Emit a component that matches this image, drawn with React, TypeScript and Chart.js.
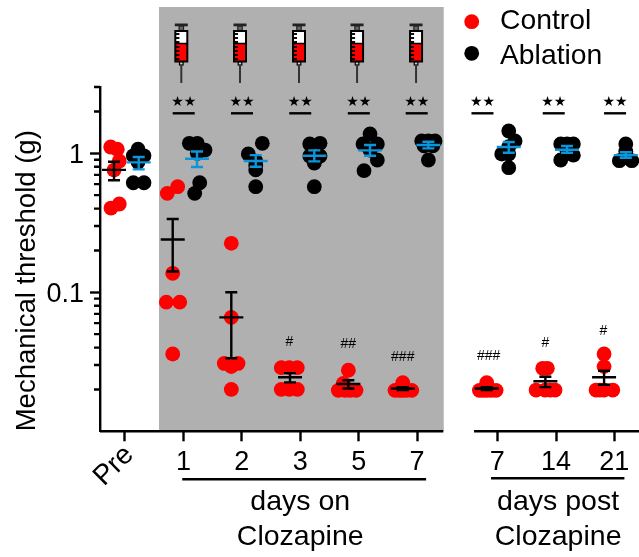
import React, { useEffect, useRef } from "react";
import { Chart, registerables } from "chart.js";

Chart.register(...registerables);

const FONT = "'Liberation Sans', Arial, sans-serif";

const xTickPos = [0, 1, 2, 3, 4, 5, 6.375, 7.38, 8.375];
const xTickLabels = ["Pre", "1", "2", "3", "5", "7", "7", "14", "21"];
const yMinorTicks = [0.02, 0.03, 0.04, 0.05, 0.06, 0.07, 0.08, 0.09, 0.2, 0.3, 0.4, 0.5, 0.6, 0.7, 0.8, 0.9, 2, 3];
const yMajorTicks = [0.1, 1];

const controlX = [
  [-0.245, -0.132, -0.098, -0.188, -0.098, -0.24],
  [0.902, 0.724, 0.817, 0.707, 0.937, 0.817],
  [1.82, 1.82, 1.7, 1.935, 1.82, 1.82],
  [2.676, 2.813, 2.95, 2.676, 2.813, 2.95],
  [3.824, 3.738, 3.652, 3.767, 3.853, 3.955],
  [4.755, 4.623, 4.755, 4.909, 4.7, 4.82],
  [6.193, 6.067, 6.193, 6.353, 6.13, 6.27],
  [7.152, 7.231, 7.038, 7.192, 7.363, 7.28],
  [8.202, 8.202, 8.065, 8.202, 8.351, 8.13],
];
const controlY = [
  [1.11, 1.07, 0.88, 0.758, 0.432, 0.404],
  [0.575, 0.515, 0.137, 0.085, 0.085, 0.036],
  [0.225, 0.066, 0.0308, 0.0308, 0.0292, 0.02],
  [0.0287, 0.0287, 0.0287, 0.02, 0.02, 0.02],
  [0.0275, 0.0221, 0.0197, 0.0197, 0.0197, 0.0197],
  [0.0224, 0.0197, 0.0197, 0.0197, 0.0197, 0.0197],
  [0.0224, 0.0197, 0.0197, 0.0197, 0.0197, 0.0197],
  [0.0284, 0.0284, 0.0198, 0.0198, 0.0198, 0.0198],
  [0.036, 0.0292, 0.0198, 0.0198, 0.0198, 0.0198],
];
const ablationX = [
  [0.223, 0.142, 0.325, 0.223, 0.142, 0.325],
  [1.101, 1.238, 1.37, 1.238, 1.279, 1.193],
  [2.351, 2.111, 2.238, 2.238, 2.238, 2.238],
  [3.163, 3.339, 3.163, 3.339, 3.241, 3.241],
  [4.195, 4.32, 4.075, 4.195, 4.32, 4.092],
  [5.08, 5.308, 5.194, 5.12, 5.27, 5.194],
  [6.57, 6.678, 6.57, 6.45, 6.57, 6.57],
  [7.46, 7.676, 7.568, 7.46, 7.676, 7.568],
  [8.574, 8.464, 8.676, 8.574, 8.574, 8.574],
];
const ablationY = [
  [1.07, 0.96, 0.96, 0.866, 0.614, 0.614],
  [1.18, 1.18, 1.056, 1.0, 0.614, 0.515],
  [1.18, 0.99, 0.88, 0.76, 0.82, 0.575],
  [1.167, 1.18, 0.956, 0.956, 0.85, 0.575],
  [1.38, 1.167, 1.167, 1.056, 0.895, 0.75],
  [1.226, 1.226, 1.226, 1.134, 1.134, 0.895],
  [1.447, 1.226, 1.115, 0.988, 0.99, 0.788],
  [1.167, 1.167, 1.167, 0.895, 0.97, 1.056],
  [1.167, 0.885, 0.885, 1.03, 0.945, 0.97],
];

const controlCenterX = [-0.188, 0.817, 1.82, 2.825, 3.824, 4.755, 6.193, 7.197, 8.202];
const controlMean = [0.76, 0.24, 0.066, 0.0245, 0.0219, 0.0203, 0.0203, 0.0229, 0.0245];
const controlTop = [0.87, 0.337, 0.1, 0.0262, 0.0233, 0.0208, 0.0208, 0.0247, 0.0273];
const controlBottom = [0.64, 0.141, 0.0335, 0.0225, 0.0203, 0.0198, 0.0198, 0.0208, 0.0216];
const ablationCenterX = [0.235, 1.233, 2.238, 3.241, 4.195, 5.194, 6.57, 7.568, 8.574];
const ablationMean = [0.86, 0.914, 0.88, 0.96, 1.05, 1.147, 1.11, 1.06, 0.97];
const ablationTop = [0.94, 1.03, 0.97, 1.05, 1.147, 1.21, 1.206, 1.13, 1.017];
const ablationBottom = [0.767, 0.797, 0.8, 0.875, 0.96, 1.086, 1.01, 1.01, 0.93];

const hashX = [2.813, 3.824, 4.755, 6.225, 7.197, 8.19];
const hashY = [0.0439, 0.0425, 0.0344, 0.035, 0.0434, 0.0527];
const hashLabels = ["#", "##", "###", "###", "#", "#"];

const sigX = [1.005, 2.003, 3.0, 4.003, 4.994, 6.12, 7.34, 8.39];
const syringeX = [0.964, 1.969, 2.979, 3.973, 4.983];
const shadeRange = [0.582, 5.457];
const axisSegments = [[-0.428, 5.45], [5.976, 8.8]];
const groupLines = [[0.98, 5.155], [6.267, 8.55]];
const groupTextX = [3.0, 7.415];
const groupText = [["days on", "Clozapine"], ["days post", "Clozapine"]];
const legendItems = ["Control", "Ablation"];
const legendColors = ["#FE0000", "#000000"];

const toPoints = (xs: number[][], ys: number[][]) =>
  xs.flatMap((row, i) => row.map((x, j) => ({ x, y: ys[i][j] })));

const decorations = {
  id: "decorations",
  beforeDatasetsDraw(chart: any) {
    const { ctx, scales } = chart;
    const x = scales.x;
    ctx.save();
    ctx.fillStyle = "#B0B0B0";
    const sx0 = x.getPixelForValue(shadeRange[0]);
    const sx1 = x.getPixelForValue(shadeRange[1]);
    ctx.fillRect(sx0, 7, sx1 - sx0, scales.y.bottom - 7);
    ctx.restore();
    drawAxisParts(chart);
    syringeX.forEach((v) => drawSyringe(ctx, x.getPixelForValue(v)));
  },
  afterDatasetsDraw(chart: any) {
    const { ctx, scales } = chart;
    const x = scales.x;
    const y = scales.y;
    ctx.save();
    const bars = (cx: number[], m: number[], t: number[], b: number[], color: string) => {
      ctx.strokeStyle = color;
      ctx.lineWidth = 2.4;
      cx.forEach((v, i) => {
        const px = x.getPixelForValue(v);
        const pm = y.getPixelForValue(m[i]);
        const pt = y.getPixelForValue(t[i]);
        const pb = y.getPixelForValue(b[i]);
        ctx.beginPath();
        ctx.moveTo(px - 12, pm); ctx.lineTo(px + 12, pm);
        ctx.moveTo(px, pt); ctx.lineTo(px, pb);
        ctx.moveTo(px - 6, pt); ctx.lineTo(px + 6, pt);
        ctx.moveTo(px - 6, pb); ctx.lineTo(px + 6, pb);
        ctx.stroke();
      });
    };
    bars(controlCenterX, controlMean, controlTop, controlBottom, "#000000");
    bars(ablationCenterX, ablationMean, ablationTop, ablationBottom, "#0A96DC");

    ctx.fillStyle = "#000";
    ctx.textAlign = "center";
    ctx.textBaseline = "middle";
    ctx.font = `14px ${FONT}`;
    hashX.forEach((v, i) => {
      ctx.fillText(hashLabels[i], x.getPixelForValue(v), y.getPixelForValue(hashY[i]));
    });

    sigX.forEach((v) => {
      const px = x.getPixelForValue(v);
      ctx.font = `14px 'DejaVu Sans'`;
      ctx.fillText("★★", px, 102);
      ctx.lineWidth = 2.4;
      ctx.strokeStyle = "#000";
      ctx.beginPath();
      ctx.moveTo(px - 11, 113.3);
      ctx.lineTo(px + 11, 113.3);
      ctx.stroke();
    });

    ctx.lineWidth = 2.4;
    groupLines.forEach(([a, b], i) => {
      const ly = i === 0 ? 479.3 : 478.3;
      ctx.beginPath();
      ctx.moveTo(x.getPixelForValue(a), ly);
      ctx.lineTo(x.getPixelForValue(b), ly);
      ctx.stroke();
    });
    ctx.font = `28.5px ${FONT}`;
    ctx.textBaseline = "alphabetic";
    groupText.forEach((lines, i) => {
      const px = x.getPixelForValue(groupTextX[i]);
      ctx.fillText(lines[0], px, 510);
      ctx.fillText(lines[1], px, 545);
    });

    ctx.save();
    ctx.translate(x.getPixelForValue(xTickPos[0]) - 11, 466);
    ctx.rotate(-Math.PI / 4);
    ctx.font = `28px ${FONT}`;
    ctx.textBaseline = "middle";
    ctx.fillText(xTickLabels[0], 0, 0);
    ctx.restore();

    ctx.textAlign = "left";
    ctx.font = `28.3px ${FONT}`;
    legendItems.forEach((t, i) => {
      const ly = i === 0 ? 21.7 : 53.3;
      ctx.fillStyle = legendColors[i];
      ctx.beginPath();
      ctx.arc(471.7, ly, 7.4, 0, Math.PI * 2);
      ctx.fill();
      ctx.fillStyle = "#000";
      ctx.fillText(t, 500, i === 0 ? 29 : 64);
    });
    ctx.restore();
  },
};

function drawAxisParts(chart: any) {
  const { ctx, scales } = chart;
  const { x, y } = scales;
  ctx.save();
  ctx.strokeStyle = "#000";
  ctx.lineWidth = 2.4;
  axisSegments.forEach(([a, b]) => {
    ctx.beginPath();
    ctx.moveTo(x.getPixelForValue(a), y.bottom);
    ctx.lineTo(x.getPixelForValue(b), y.bottom);
    ctx.stroke();
  });
  ctx.beginPath();
  yMinorTicks.forEach((v) => {
    const p = y.getPixelForValue(v);
    ctx.moveTo(y.right - 6, p);
    ctx.lineTo(y.right, p);
  });
  ctx.stroke();
  ctx.restore();
}

function drawSyringe(ctx: CanvasRenderingContext2D, cx: number) {
  ctx.save();
  ctx.fillStyle = "#222";
  ctx.fillRect(cx - 6.5, 23.5, 13, 2.8);
  ctx.fillStyle = "#666";
  ctx.fillRect(cx - 2.2, 26, 4.4, 4.5);
  ctx.strokeStyle = "#222";
  ctx.lineWidth = 1.2;
  ctx.strokeRect(cx - 2.2, 26, 4.4, 4.5);
  ctx.fillStyle = "#fff";
  ctx.fillRect(cx - 6, 31, 12, 13);
  ctx.fillStyle = "#FE0000";
  ctx.fillRect(cx - 6, 43.5, 12, 18);
  ctx.strokeStyle = "#000";
  ctx.lineWidth = 2;
  ctx.strokeRect(cx - 6, 31, 12, 30.5);
  ctx.lineWidth = 1.4;
  ctx.beginPath();
  [34, 38, 42, 47, 51, 55, 59].forEach((ty) => {
    ctx.moveTo(cx - 6, ty);
    ctx.lineTo(cx - 2, ty);
  });
  ctx.stroke();
  ctx.moveTo(cx - 6, 43.5);
  ctx.lineTo(cx + 6, 43.5);
  ctx.stroke();
  ctx.fillStyle = "#D0D0D0";
  ctx.fillRect(cx - 1.8, 62, 3.6, 3);
  ctx.lineWidth = 1.2;
  ctx.strokeRect(cx - 1.8, 62, 3.6, 3);
  ctx.strokeStyle = "#333";
  ctx.lineWidth = 2;
  ctx.beginPath();
  ctx.moveTo(cx, 65);
  ctx.lineTo(cx, 83);
  ctx.stroke();
  ctx.restore();
}

export default function App() {
  const ref = useRef<HTMLCanvasElement>(null);
  useEffect(() => {
    document.body.style.margin = "0";
    const chart = new Chart(ref.current as HTMLCanvasElement, {
      type: "scatter",
      data: {
        datasets: [
          {
            label: "Control",
            data: toPoints(controlX, controlY),
            backgroundColor: "#FE0000",
            borderWidth: 0,
            pointRadius: 7.4,
            clip: false,
          },
          {
            label: "Ablation",
            data: toPoints(ablationX, ablationY),
            backgroundColor: "#000000",
            borderWidth: 0,
            pointRadius: 7.4,
            clip: false,
          },
        ],
      } as any,
      options: {
        animation: false,
        responsive: false,
        devicePixelRatio: 1,
        layout: { autoPadding: false, padding: { top: 87, left: 0, right: 0, bottom: 0 } },
        plugins: { legend: { display: false }, tooltip: { enabled: false } },
        scales: {
          x: {
            type: "linear",
            min: axisSegments[0][0],
            max: axisSegments[1][1],
            afterFit: (s: any) => { s.height = 125.7; s.paddingLeft = 0; s.paddingRight = 0; },
            afterBuildTicks: (s: any) => { s.ticks = xTickPos.map((value) => ({ value })); },
            border: { display: false },
            grid: { drawOnChartArea: false, drawTicks: true, tickLength: 10, tickWidth: 2.4, tickColor: "#000" },
            ticks: {
              autoSkip: false,
              maxRotation: 0,
              minRotation: 0,
              padding: 5,
              color: "#000",
              font: { family: FONT, size: 27 },
              callback: (_v: any, i: number) => (i === 0 ? "" : xTickLabels[i]),
            },
          },
          y: {
            type: "logarithmic",
            min: 0.01,
            max: 3,
            afterFit: (s: any) => { s.width = 100; s.paddingTop = 0; s.paddingBottom = 0; },
            afterBuildTicks: (s: any) => { s.ticks = yMajorTicks.map((value) => ({ value, major: true })); },
            border: { display: true, color: "#000", width: 2.4 },
            grid: { drawOnChartArea: false, drawTicks: true, tickLength: 10, tickWidth: 2.4, tickColor: "#000" },
            ticks: {
              autoSkip: false,
              padding: 6,
              labelOffset: 2,
              color: "#000",
              font: { family: FONT, size: 27 },
              callback: (v: any) => String(v),
            },
            title: {
              display: true,
              text: "Mechanical threshold (g)",
              align: "start",
              color: "#000",
              font: { family: FONT, size: 27.5 },
              padding: { top: 11, bottom: 0 },
            },
          },
        },
      } as any,
      plugins: [decorations],
    });
    return () => chart.destroy();
  }, []);
  return <canvas ref={ref} width={639} height={557} style={{ display: "block" }} />;
}
